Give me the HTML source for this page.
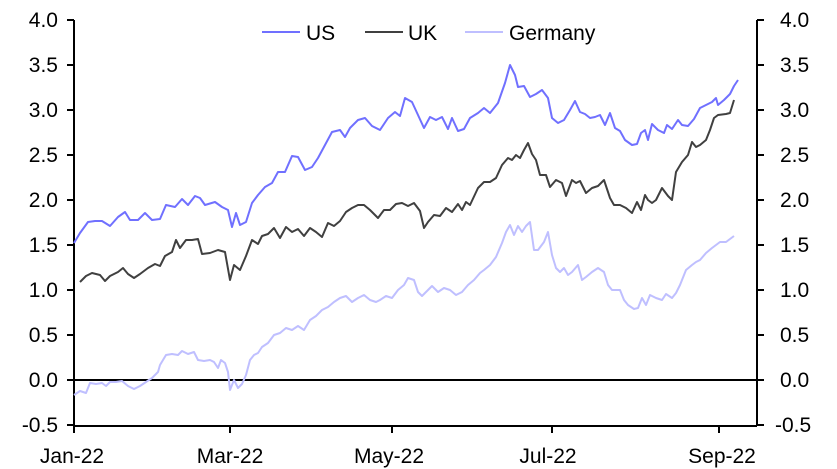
<!DOCTYPE html>
<html><head><meta charset="utf-8"><style>body{margin:0;background:#fff}svg{display:block}text{font-family:"Liberation Sans",Arial,sans-serif;font-size:21px;fill:#000}</style></head><body>
<svg width="837" height="469" viewBox="0 0 837 469">
<g stroke="#000" stroke-width="2" fill="none">
<line x1="74" y1="20" x2="74" y2="426"/>
<line x1="757" y1="20" x2="757" y2="426"/>
<line x1="74" y1="426" x2="757" y2="426"/>
<line x1="74" y1="380" x2="757" y2="380"/>
<path d="M67 20H74M67 65H74M67 110H74M67 155H74M67 200H74M67 245H74M67 290H74M67 335H74M67 380H74M67 425H74"/>
<path d="M757 20H764M757 65H764M757 110H764M757 155H764M757 200H764M757 245H764M757 290H764M757 335H764M757 380H764M757 425H764"/>
<path d="M74 426V433M230 426V433M392 426V433M552 426V433M719 426V433"/>
</g>
<g text-anchor="end">
<text x="58" y="27">4.0</text><text x="58" y="72">3.5</text><text x="58" y="117">3.0</text><text x="58" y="162">2.5</text><text x="58" y="207">2.0</text><text x="58" y="252">1.5</text><text x="58" y="297">1.0</text><text x="58" y="342">0.5</text><text x="58" y="387">0.0</text><text x="58" y="432">-0.5</text>
</g>
<g>
<text x="780" y="27">4.0</text><text x="780" y="72">3.5</text><text x="780" y="117">3.0</text><text x="780" y="162">2.5</text><text x="780" y="207">2.0</text><text x="780" y="252">1.5</text><text x="780" y="297">1.0</text><text x="780" y="342">0.5</text><text x="780" y="387">0.0</text><text x="775" y="432">-0.5</text>
</g>
<g text-anchor="middle">
<text x="72" y="463">Jan-22</text><text x="230" y="463">Mar-22</text><text x="389" y="463">May-22</text><text x="548" y="463">Jul-22</text><text x="722" y="463">Sep-22</text>
</g>
<g fill="none" stroke-width="2" stroke-linejoin="round">
<polyline stroke="#bfbfff" points="74,395 80,391 86,393 90,383 96,384 102,383 106,386 110,382 116,382 122,381 128,386 134,389 140,386 146,382 152,378 158,372 160,365 166,355 172,354 178,355 182,351 188,354 194,352 198,360 204,361 210,360 214,362 218,368 221,360 225,363 228,372 230,390 234,380 238,388 242,384 246,375 250,360 254,355 258,353 262,347 268,343 274,335 280,333 286,328 292,330 298,326 304,330 310,320 316,316 322,310 328,307 334,302 340,298 346,296 352,302 358,298 364,295 370,300 376,302 380,300 386,296 392,298 398,290 404,285 408,278 414,280 418,292 422,296 428,290 432,286 438,292 444,288 450,290 456,295 462,292 468,285 474,280 480,273 484,270 490,265 496,257 502,243 506,232 510,225 514,235 518,226 522,232 526,226 530,222 534,250 538,250 544,242 548,232 552,255 556,268 560,272 564,268 568,275 572,272 578,265 582,280 586,277 592,272 598,268 604,272 608,285 612,290 616,290 620,290 624,300 628,305 634,309 638,308 642,298 646,305 650,295 656,298 662,300 666,294 672,298 676,293 680,285 686,270 692,265 696,262 700,260 706,253 712,248 716,245 720,242 726,242 734,236"/>
<polyline stroke="#404040" points="80,282 86,276 92,273 100,275 105,281 110,276 118,272 123,268 128,274 134,278 140,274 148,268 155,264 160,266 165,256 172,252 176,240 180,248 186,240 192,240 198,239 202,254 210,253 218,250 225,252 230,280 234,265 240,270 246,256 252,240 258,244 262,236 268,234 274,228 280,238 286,227 292,232 298,229 304,236 310,228 316,232 322,237 328,223 334,226 340,221 346,212 352,208 358,205 364,205 370,210 378,218 384,210 390,210 396,204 402,203 408,206 414,203 420,211 424,228 428,222 434,215 440,216 446,208 452,212 458,204 462,210 466,202 470,205 478,188 484,182 490,182 496,178 502,165 508,158 512,160 516,155 520,158 524,150 528,143 532,154 536,160 540,175 546,175 550,187 556,180 562,183 566,196 572,180 576,183 580,181 586,193 592,188 598,186 604,180 610,198 614,205 620,205 626,208 632,213 637,202 641,210 645,195 648,200 652,203 656,200 662,188 668,196 672,200 676,172 682,162 688,155 692,142 696,147 700,145 706,140 710,130 714,118 718,115 726,114 730,113 734,100"/>
<polyline stroke="#7070ff" points="74,243 80,233 88,222 95,221 102,221 110,226 118,217 125,212 130,220 138,220 145,213 152,220 160,219 166,205 175,207 182,199 188,205 195,196 200,198 205,205 215,202 222,207 228,210 232,227 236,213 240,225 246,222 252,203 258,195 265,187 272,183 278,172 285,172 292,156 298,157 305,170 312,167 318,158 325,145 332,132 340,130 345,137 350,128 358,120 365,118 372,126 380,130 388,118 395,112 400,116 405,98 412,102 418,115 424,128 430,117 436,120 442,117 448,129 452,118 458,131 464,129 470,118 478,113 484,108 490,113 498,103 505,83 510,65 515,75 518,87 524,86 530,97 536,94 542,90 548,98 552,118 558,123 564,120 570,110 575,101 580,112 585,114 590,118 595,117 600,115 605,125 610,113 615,128 620,131 625,140 632,145 637,144 641,133 645,130 648,140 652,124 658,130 664,133 667,125 672,129 678,120 682,125 688,126 694,119 700,108 706,105 712,102 716,98 718,105 724,100 730,94 734,86 738,80"/>
<line x1="262" y1="32" x2="300" y2="32" stroke="#7070ff"/>
<line x1="365" y1="32" x2="403" y2="32" stroke="#404040"/>
<line x1="465" y1="32" x2="503" y2="32" stroke="#bfbfff"/>
</g>
<g style="font-size:22px"><text x="306" y="40">US</text><text x="408" y="40">UK</text><text x="509" y="40">Germany</text></g>
</svg>
</body></html>
